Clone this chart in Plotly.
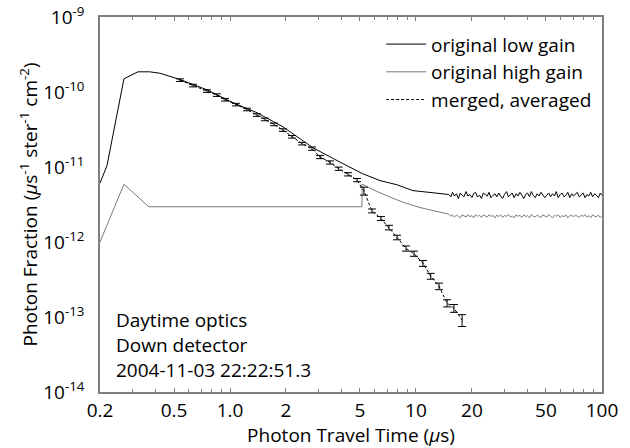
import plotly.graph_objects as go

# ---------------- data ----------------
low_t = [0.2, 0.218, 0.269, 0.32, 0.37, 0.42, 0.538, 0.752, 1.04, 1.396, 1.925,
         2.79, 3.76, 5.13, 6.4, 7.9, 9.6, 11.8, 13.5]
low_v = [6.1e-12, 1.04e-11, 1.5e-10, 1.86e-10, 1.86e-10, 1.78e-10, 1.47e-10, 1.07e-10,
         7.2e-11, 5.3e-11, 3.44e-11, 1.81e-11, 1.22e-11, 8.2e-12, 6.6e-12, 5.8e-12,
         4.85e-12, 4.6e-12, 4.4e-12]

tail_t = [15.0, 15.4, 15.7, 16.1, 16.5, 16.9, 17.3, 17.7, 18.1, 18.6,
          19.0, 19.5, 20.0, 20.4, 20.9, 21.4, 22.0, 22.5, 23.0, 23.6,
          24.2, 24.7, 25.3, 26.0, 26.6, 27.2, 27.9, 28.5, 29.2, 29.9,
          30.7, 31.4, 32.2, 32.9, 33.7, 34.5, 35.4, 36.2, 37.1, 38.0,
          38.9, 39.8, 40.8, 41.7, 42.7, 43.8, 44.8, 45.9, 47.0, 48.1,
          49.3, 50.5, 51.7, 52.9, 54.2, 55.5, 56.8, 58.2, 59.6, 61.0,
          62.5, 64.0, 65.5, 67.1, 68.7, 70.3, 72.0, 73.7, 75.5, 77.3,
          79.2, 81.1, 83.0, 85.0, 87.0, 89.1, 91.3, 93.4, 95.7, 98.0,
          100.0]
low_tail_v = [4.3, 4.0, 4.6, 4.1, 4.4, 3.8, 4.5, 4.2, 4.0, 4.7,
              4.1, 4.3, 3.9, 4.4, 4.6, 4.0, 4.2, 3.8, 4.5, 4.3,
              4.1, 4.6, 3.9, 4.2, 4.4, 4.0, 4.5, 4.1, 3.8, 4.3,
              4.7, 4.0, 4.2, 4.5, 3.9, 4.4, 4.1, 4.6, 4.2, 3.8,
              4.3, 4.5, 4.0, 4.7, 4.2, 3.9, 4.4, 4.1, 4.6, 4.3,
              3.9, 4.2, 4.5, 4.0, 4.4, 4.1, 4.7, 3.9, 4.3, 4.5,
              4.0, 4.2, 4.6, 3.9, 4.4, 4.1, 4.3, 4.6, 4.0, 4.2,
              4.5, 3.9, 4.3, 4.1, 4.6, 4.0, 4.4, 4.2, 3.9, 4.5,
              4.2]  # x 1e-12

high_t = [0.2, 0.269, 0.366, 5.12, 5.13, 6.02, 7.2, 8.6, 10.5, 14.0]
high_v = [1.0e-12, 5.9e-12, 2.95e-12, 2.95e-12, 5.9e-12, 4.85e-12, 4.0e-12, 3.36e-12,
          2.88e-12, 2.4e-12]
high_tail_v = [2.35, 2.20, 2.30, 2.15, 2.28, 2.20, 2.10, 2.30, 2.22, 2.15,
               2.32, 2.18, 2.25, 2.10, 2.30, 2.20, 2.27, 2.12, 2.30, 2.20,
               2.15, 2.32, 2.20, 2.25, 2.10, 2.28, 2.18, 2.30, 2.12, 2.25,
               2.20, 2.33, 2.15, 2.22, 2.10, 2.30, 2.20, 2.27, 2.12, 2.30,
               2.18, 2.25, 2.10, 2.32, 2.20, 2.15, 2.28, 2.20, 2.12, 2.30,
               2.22, 2.15, 2.33, 2.20, 2.10, 2.27, 2.20, 2.30, 2.12, 2.25,
               2.18, 2.30, 2.10, 2.22, 2.28, 2.15, 2.30, 2.20, 2.12, 2.27,
               2.20, 2.32, 2.15, 2.25, 2.10, 2.30, 2.20, 2.18, 2.28, 2.12,
               2.25]  # x 1e-12

merged_t = [0.538, 0.632, 0.752, 0.851, 0.940, 1.077, 1.234, 1.396, 1.542, 1.724, 1.925,
            2.155, 2.44, 2.76, 3.05, 3.45, 3.84, 4.31, 4.82, 5.25, 5.80, 6.48, 7.16, 7.91,
            8.84, 9.76, 10.9, 12.0, 13.3, 14.7, 16.0, 17.7]
merged_v = [1.44e-10, 1.22e-10, 1.03e-10, 9.1e-11, 7.9e-11, 6.8e-11, 5.85e-11, 4.93e-11,
            4.31e-11, 3.70e-11, 3.11e-11, 2.53e-11, 2.05e-11, 1.76e-11, 1.36e-11, 1.15e-11,
            9.5e-12, 8.0e-12, 6.7e-12, 4.8e-12, 2.6e-12, 2.06e-12, 1.56e-12, 1.15e-12,
            8.2e-13, 7.0e-13, 5.2e-13, 3.5e-13, 2.57e-13, 1.53e-13, 1.31e-13, 9.1e-14]
merged_err_pct = [4, 4, 4, 4, 4, 4, 4, 4, 4, 4, 4, 4, 4, 5, 5, 5, 5, 5, 5, 12, 6, 6, 7,
                  7, 8, 8, 9, 9, 10, 11, 12, 18]

x_tickvals = [0.2, 0.5, 1, 2, 5, 10, 20, 50, 100]
x_ticktext = ["0.2", "0.5", "1.0", "2", "5", "10", "20", "50", "100"]
x_minor = [0.3, 0.4, 0.6, 0.7, 0.8, 0.9, 3, 4, 6, 7, 8, 9, 30, 40, 60, 70, 80, 90]
y_exps = [-14, -13, -12, -11, -10, -9]

notes = ["Daytime optics", "Down detector", "2004-11-03 22:22:51.3"]

# ---------------- figure ----------------
FONT = "Open Sans"
fig = go.Figure()

fig.add_trace(go.Scatter(
    x=low_t + tail_t, y=low_v + [v * 1e-12 for v in low_tail_v],
    mode="lines", name="original low gain",
    line=dict(color="black", width=1)))

fig.add_trace(go.Scatter(
    x=high_t + tail_t, y=high_v + [v * 1e-12 for v in high_tail_v],
    mode="lines", name="original high gain",
    line=dict(color="#7a7a7a", width=1)))

fig.add_trace(go.Scatter(
    x=merged_t, y=merged_v, mode="lines", name="merged, averaged",
    line=dict(color="black", width=1, dash="3px,2px"),
    error_y=dict(type="data", array=[v * p / 100 for v, p in zip(merged_v, merged_err_pct)],
                 color="black", thickness=1, width=4)))

y_vals = [10.0 ** e for e in y_exps]
y_text = ["10<sup>%d</sup>" % e for e in y_exps]

axis_common = dict(showline=True, linecolor="#7f7f7f", linewidth=1.5, mirror="ticks",
                   showgrid=False, zeroline=False, automargin=False)

fig.update_xaxes(type="log", range=[-0.69897, 2.0002], tickmode="array",
                 tickvals=x_tickvals, ticktext=x_ticktext,
                 ticks="inside", ticklen=4, tickcolor="#7f7f7f", tickwidth=1,
                 minor=dict(ticks="inside", ticklen=3, tickcolor="#7f7f7f",
                            tickmode="array", tickvals=x_minor),
                 title=dict(text="Photon Travel Time (<i>μ</i>s)", standoff=0,
                            font=dict(size=19)),
                 tickfont=dict(size=19), **axis_common)
fig.update_yaxes(type="log", range=[-14.0005, -8.9995], tickmode="array",
                 tickvals=y_vals, ticktext=y_text, ticks="",
                 ticklabelstandoff=10, ticklabeloverflow="allow",
                 title=dict(text="Photon Fraction (<i>μ</i>s<sup>-1</sup> ster<sup>-1</sup> cm<sup>-2</sup>)",
                            standoff=0, font=dict(size=19)),
                 tickfont=dict(size=19), **axis_common)

for i, txt in enumerate(notes):
    fig.add_annotation(text=txt, xref="paper", yref="paper", x=0.028,
                       y=0.191 - i * 0.0665, xanchor="left", yanchor="middle",
                       showarrow=False, font=dict(size=19, color="black"))

fig.update_layout(
    width=630, height=448,
    margin=dict(l=100, r=28, t=17, b=56),
    paper_bgcolor="white", plot_bgcolor="white",
    font=dict(family=FONT, color="black", size=18),
    showlegend=True,
    legend=dict(x=0.56, y=0.978, xanchor="left", yanchor="top",
                bgcolor="rgba(0,0,0,0)", font=dict(size=19), itemwidth=40),
)

fig.write_html("out.html")
